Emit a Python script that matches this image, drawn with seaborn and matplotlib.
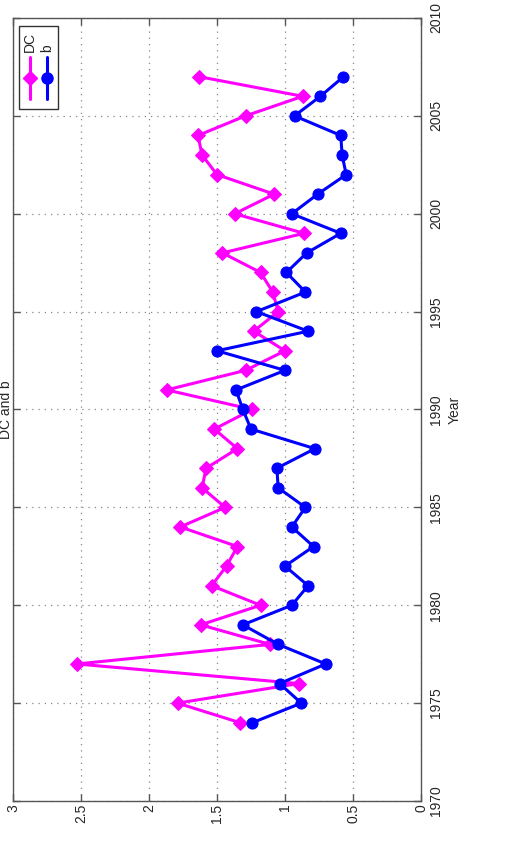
import matplotlib
matplotlib.use('Agg')
import matplotlib.pyplot as plt
import seaborn as sns
from matplotlib.lines import Line2D
from matplotlib.patches import Rectangle

###
#   DATA
###
years = list(range(1974, 2008))
dc = [1.33, 1.79, 0.90, 2.53, 1.11, 1.62, 1.18, 1.54, 1.43, 1.35,
      1.77, 1.44, 1.61, 1.58, 1.35, 1.52, 1.24, 1.87, 1.29, 1.00,
      1.23, 1.05, 1.09, 1.18, 1.46, 0.86, 1.37, 1.08, 1.50, 1.61,
      1.64, 1.29, 0.87, 1.63]
b = [1.24, 0.88, 1.04, 0.70, 1.05, 1.31, 0.95, 0.83, 1.00, 0.79,
     0.95, 0.85, 1.05, 1.06, 0.78, 1.25, 1.31, 1.36, 1.00, 1.50,
     0.83, 1.21, 0.85, 0.99, 0.84, 0.59, 0.95, 0.76, 0.55, 0.58,
     0.59, 0.93, 0.74, 0.57]
value_ticks = [0, 0.5, 1, 1.5, 2, 2.5, 3]
value_labels = ['0', '0.5', '1', '1.5', '2', '2.5', '3']
year_ticks = [1970, 1975, 1980, 1985, 1990, 1995, 2000, 2005, 2010]

###
#   STYLE
###
sns.set_style('white')
plt.rcParams['font.family'] = ['Liberation Sans', 'DejaVu Sans']
plt.rcParams['font.size'] = 10

W, H = 527, 841
fig = plt.figure(figsize=(W / 100, H / 100), dpi=100)


def px(x, y):
    return (x / W, 1 - y / H)


ax = fig.add_axes([13 / W, 40 / H, (421 - 13) / W, (801 - 18) / H])

DC_COL = '#ff00ff'
B_COL = '#0000ff'

sns.lineplot(x=dc, y=years, ax=ax, color=DC_COL, marker='D', markersize=7,
             markeredgecolor=DC_COL, linewidth=2.2, estimator=None, sort=False)
sns.lineplot(x=b, y=years, ax=ax, color=B_COL, marker='o', markersize=8,
             markeredgecolor=B_COL, linewidth=2.2, estimator=None, sort=False)

###
#   AXES
###
ax.set_xlim(3, 0)
ax.set_ylim(1970, 2010)
ax.set_xticks(value_ticks)
ax.set_xticklabels(value_labels)
ax.set_yticks(year_ticks)
ax.grid(True, linestyle=(0, (1, 4)), color='#888888', linewidth=0.9)
for s in ax.spines.values():
    s.set_color('#555555')
    s.set_linewidth(1.0)

ax.tick_params(direction='in', length=5, width=1, color='#555555',
               top=True, bottom=True, left=True, right=True,
               labelleft=False, labelright=True)
ax.tick_params(axis='x', labelrotation=90, pad=2)
ax.tick_params(axis='y', labelrotation=90, pad=6)
for t in ax.get_yticklabels():
    t.set_va('center')
for t in ax.get_xticklabels():
    t.set_ha('center')
    t.set_va('top')

ax.yaxis.set_label_position('right')
ax.set_ylabel('Year', rotation=90, labelpad=3)
ax.set_xlabel('')

# title (rotated, sits in the thin strip left of the axes)
fig.text(6 / W, 0.513, 'DC and b', rotation=90, ha='center', va='center',
         fontsize=10)

###
#   LEGEND (rotated)
###
x0, y0 = px(19, 109)
x1, y1 = px(58, 26)
fig.add_artist(Rectangle((x0, y0), x1 - x0, y1 - y0, transform=fig.transFigure,
                         facecolor='white', edgecolor='#333333', linewidth=1))
for xp, col, mk, ms, lab in [(30, DC_COL, 'D', 7, 'DC'), (47, B_COL, 'o', 8, 'b')]:
    xs, ys = zip(*[px(xp, yy) for yy in (57, 78, 99)])
    fig.add_artist(Line2D(xs, ys, transform=fig.transFigure, color=col,
                          linewidth=2.2, marker=mk, markersize=ms,
                          markevery=[1], markeredgecolor=col))
    tx, ty = px(xp, 52)
    fig.text(tx, ty, lab, rotation=90, ha='center', va='bottom', fontsize=10)

fig.savefig('out.png', dpi=100)
